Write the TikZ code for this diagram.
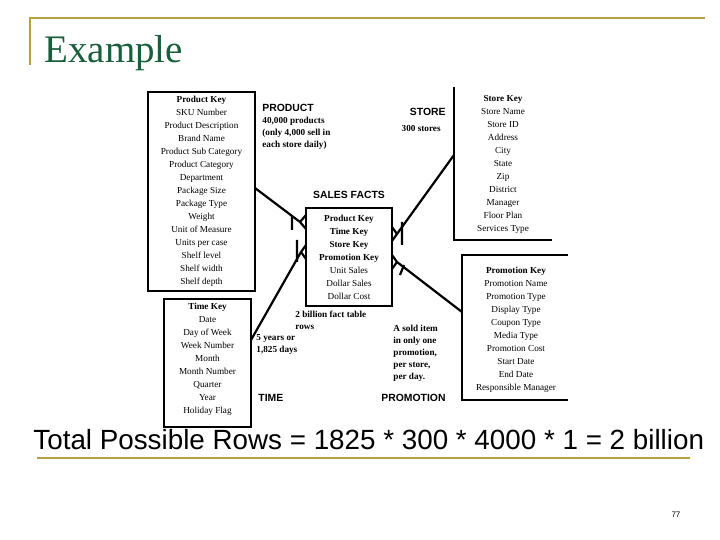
\documentclass[tikz,border=0pt]{standalone}
\usepackage{fontspec}
\setmainfont{Liberation Serif}
\newfontfamily\sans{Liberation Sans}
\definecolor{gold}{RGB}{184,160,64}
\definecolor{titlegreen}{RGB}{25,95,60}
\begin{document}
\begin{tikzpicture}[x=0.5pt,y=-0.5pt,
	tbl/.style={align=center,font=\fontsize{4.6}{6.5}\selectfont,inner sep=0pt},
	lbl/.style={font=\sans\bfseries\fontsize{5.2}{6}\selectfont,inner sep=0pt},
	note/.style={align=left,font=\bfseries\fontsize{4.6}{6}\selectfont,inner sep=0pt},
	link/.style={line width=1.1pt}]
	\useasboundingbox (0,0) rectangle (720,540);
	% slide frame
	\draw[gold,line width=1.2pt](30,65)--(30,18)--(705,18);
	\node[anchor=base west,text=titlegreen,font=\fontsize{19.5}{21}\selectfont,inner sep=0pt](title) at (44,63){Example};
	% dimension tables
	\draw[line width=0.8pt](148,92) rectangle (255,291);
	\node[tbl](prod) at (201.5,191){\textbf{Product Key}\\SKU Number\\Product Description\\Brand Name\\Product Sub Category\\Product Category\\Department\\Package Size\\Package Type\\Weight\\Unit of Measure\\Units per case\\Shelf  level\\Shelf width\\Shelf depth};
	\draw[line width=0.6pt](164,299) rectangle (251,427);
	\node[tbl](time) at (207.5,359){\textbf{Time Key}\\Date\\Day of Week\\Week Number\\Month\\Month Number\\Quarter\\Year\\Holiday Flag};
	\draw[line width=0.6pt](454,87)--(454,240)--(552,240);
	\node[tbl](store) at (503,164){\textbf{Store Key}\\Store Name\\Store ID\\Address\\City\\State\\Zip\\District\\Manager\\Floor Plan\\Services Type};
	\draw[line width=0.6pt](568,255)--(462,255)--(462,400)--(568,400);
	\node[tbl](promo) at (516,330){\textbf{Promotion Key}\\Promotion Name\\Promotion Type\\Display Type\\Coupon Type\\Media Type\\Promotion Cost\\Start Date\\End Date\\Responsible Manager};
	% fact table
	\draw[line width=0.8pt](306,208) rectangle (392,306);
	\node[tbl](fact) at (349,257){\textbf{Product Key}\\\textbf{Time Key}\\\textbf{Store Key}\\\textbf{Promotion Key}\\Unit Sales\\Dollar Sales\\Dollar Cost};
	\node[lbl](sf) at (349,195){SALES FACTS};
	% captions
	\node[lbl,anchor=west](lp) at (262,108){PRODUCT};
	\node[note,anchor=north west](np) at (262,117){40,000 products\\(only 4,000 sell in\\each store daily)};
	\node[lbl,anchor=east](ls) at (446,112){STORE};
	\node[note,anchor=east](ns) at (441,128){300 stores};
	\node[note,anchor=north west](nf) at (295,311){2 billion fact table\\rows};
	\node[note,anchor=north west](nt) at (256,334){5 years or\\1,825 days};
	\node[lbl,anchor=west](lt) at (258,398){TIME};
	\node[note,anchor=north west](nm) at (393,325){A sold item\\in only one\\promotion,\\per store,\\per day.};
	\node[lbl,anchor=west](lm) at (381,398){PROMOTION};
	% connectors with crow's feet
	\draw[link](255,188)--(300,222);
	\draw[link](300,222)--(306,215) (300,222)--(306,229) (292,216)--(292,230);
	\draw[link](251,340)--(301,252);
	\draw[link](301,252)--(306,245) (301,252)--(306,259) (297,240)--(297,262);
	\draw[link](454,155)--(397,234);
	\draw[link](397,234)--(392,227) (397,234)--(392,241) (402,222)--(402,245);
	\draw[link](462,312)--(397,262);
	\draw[link](397,262)--(392,255) (397,262)--(392,269) (404,265)--(400,275);
	% bottom line
	\node[font=\sans\fontsize{13.9}{16}\selectfont,anchor=base west,inner sep=0pt](total) at (33,450){Total Possible Rows = 1825 * 300 * 4000 * 1 =  2 billion};
	\draw[gold,line width=1.2pt](37,458)--(690,458);
	\node[font=\sans\fontsize{4}{5}\selectfont](page) at (676,515){77};
\end{tikzpicture}
\end{document}
